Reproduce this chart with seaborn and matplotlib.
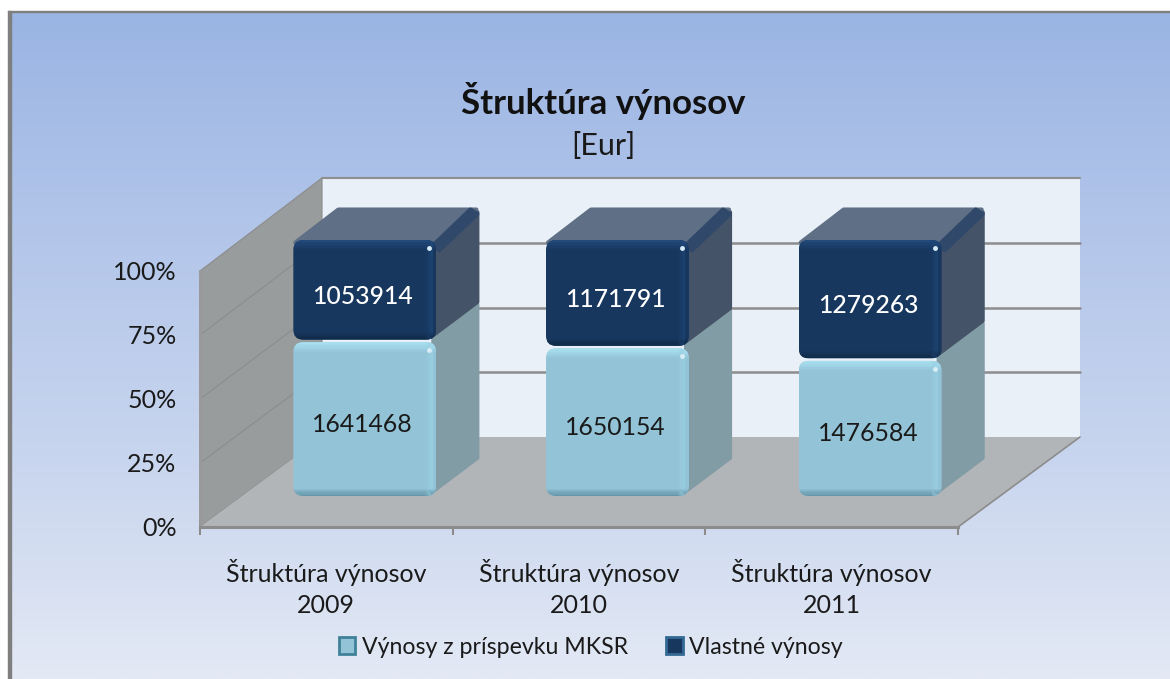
import numpy as np
import matplotlib
matplotlib.use("Agg")
import matplotlib.pyplot as plt
import seaborn as sns
from matplotlib.colors import LinearSegmentedColormap
from matplotlib.patches import FancyBboxPatch, Rectangle, Patch
from matplotlib.transforms import IdentityTransform

# Dáta
roky = ["Štruktúra výnosov\n2009", "Štruktúra výnosov\n2010", "Štruktúra výnosov\n2011"]
vynosy_mksr = [1641468, 1650154, 1476584]
vlastne_vynosy = [1053914, 1171791, 1279263]
nazvy_serii = ["Výnosy z príspevku MKSR", "Vlastné výnosy"]
ytick_hodnoty = [0, 25, 50, 75, 100]

sns.set_theme(style="white")
plt.rcParams["font.family"] = ["Lato", "DejaVu Sans"]

W, H = 1170, 679
fig = plt.figure(figsize=(W / 100, H / 100), dpi=100, facecolor="white")


def box(left, top, right, bottom):
    return [left / W, 1 - bottom / H, (right - left) / W, (bottom - top) / H]


# pozadie s prechodom
bg = fig.add_axes(box(11, 12, W, H), zorder=0)
cmap = LinearSegmentedColormap.from_list("bg", ["#9ab4e3", "#b3c6ea", "#c8d5ee", "#e3e9f5"])
bg.imshow(np.linspace(0, 1, 256).reshape(-1, 1), aspect="auto", cmap=cmap)
bg.axis("off")
fig.add_artist(Rectangle(box(8, 11, 11, H)[:2], 3 / W, (H - 11) / H, color="#7f7f7f", transform=fig.transFigure))
fig.add_artist(Rectangle((8 / W, 1 - 12 / H), (W - 8) / W, 1.5 / H, color="#7f7f7f", transform=fig.transFigure))

# predna rovina grafu
ax = fig.add_axes(box(200, 271, 958, 527), zorder=1)
ax.patch.set_alpha(0)
pct_a = np.array(vynosy_mksr) / (np.array(vynosy_mksr) + np.array(vlastne_vynosy)) * 100
sus = np.full(3, 100.0)

PX = 3 / 758  # kategorie na pixel
PY = 100 / 256  # percenta na pixel
DX, DY = 122 * PX, 90 * PY


def zadok(x, y):
    return x + DX, y * 259 / 256 + DY


ax.set_xlim(-0.5, 2.5)
ax.set_ylim(0, 100)
x0, x1 = -0.5, 2.5
xb0, yb0 = zadok(x0, 0)
xb1, yb1 = zadok(x1, 100)

# steny a podlaha
ax.fill([xb0, xb1, xb1, xb0], [yb0, yb0, yb1, yb1], color="#e9f0f8", clip_on=False, zorder=0, lw=0)
ax.plot([xb0, xb1], [yb1, yb1], color="#8f8f8f", lw=1.5, clip_on=False, zorder=1)
ax.fill([x0, xb0, xb0, x0], [0, yb0, yb1, 100], color="#999c9c", clip_on=False, zorder=1, ec="#8c8c8c", lw=0.8)
ax.fill([x0, x1, xb1, xb0], [0, 0, yb0, yb0], color="#b2b5b7", clip_on=False, zorder=1, lw=0)
ax.plot([x1, xb1], [0, yb0], color="#8c8c8c", lw=1.2, clip_on=False, zorder=1)
for v in ytick_hodnoty[1:-1]:
    xb, yb = zadok(x0, v)
    xe, _ = zadok(x1, v)
    ax.plot([xb, xe], [yb, yb], color="#8c8c8c", lw=1.8, clip_on=False, zorder=1)
    ax.plot([x0, xb], [v, yb], color="#8a8d8d", lw=0.8, clip_on=False, zorder=1)

ax.set_xticks(range(3))
ax.set_xticklabels(roky, fontsize=18, color="#1a1a1a", linespacing=1.42)
ax.set_xticks([-0.5, 0.5, 1.5, 2.5], minor=True)
ax.tick_params(axis="x", which="major", length=0, pad=23)
ax.tick_params(axis="x", which="minor", direction="inout", length=11, width=1.5, color="#8c8c8c", bottom=True)
ax.set_yticks(ytick_hodnoty)
ax.set_yticklabels([f"{v}%" for v in ytick_hodnoty], fontsize=18, color="#1a1a1a")
ax.tick_params(axis="y", length=0, pad=17)
for s in ["top", "right"]:
    ax.spines[s].set_visible(False)
ax.spines["bottom"].set_color("#8c8c8c")
ax.spines["bottom"].set_linewidth(2.2)
ax.spines["left"].set_color("#999999")
ax.spines["left"].set_linewidth(2)

# stlpce: posunute do hlbky oproti prednej rovine
bx = fig.add_axes(box(200 + 38.5, 271 - 31, 958 + 38.5, 527 - 31), zorder=2)
bx.patch.set_alpha(0)
sns.barplot(x=roky, y=sus, color="#17375e", saturation=1, width=0.566, ax=bx, zorder=3, linewidth=0)
sns.barplot(x=roky, y=pct_a, color="#93c3d6", saturation=1, width=0.566, ax=bx, zorder=3, linewidth=0)
bx.set_xlim(-0.5, 2.5)
bx.set_ylim(0, 100)
bx.axis("off")

tmave = bx.patches[:3]
svetle = bx.patches[3:6]
hl_x, hl_y = 42 * PX, 33 * PY
KROKY = 6


def plocha(xs, ys, farba):
    bx.fill(xs, ys, color=farba, ec=farba, lw=3, joinstyle="round", clip_on=False, zorder=2)


def oblec(bar, top, bottom, hore, dole, pravo):
    # zaoblenie a skosene hrany na prednej strane
    xl, xr = bar.get_x(), bar.get_x() + bar.get_width()
    (dl, db), (dr, dt) = bx.transData.transform([(xl, bottom), (xr, top)])
    clip = FancyBboxPatch((dl, db), dr - dl, dt - db, boxstyle="round,pad=0,rounding_size=10",
                          transform=IdentityTransform(), fc="none", ec="none")
    bar.set_clip_path(clip)
    for k in range(KROKY):
        a = 1 - k / KROKY
        pasy = [
            (xl, top - (k + 1) * 1.6 * PY, xr - xl, 1.6 * PY, hore, a),
            (xl, bottom + k * 1.2 * PY, xr - xl, 1.2 * PY, dole, a),
            (xr - (5 + k * 1.2) * PX, bottom, 1.2 * PX, top - bottom, pravo, a * 0.8),
        ]
        for px, py, pw, ph, farba, alfa in pasy:
            r = Rectangle((px, py), pw, ph, fc=farba, ec="none", alpha=alfa, zorder=4)
            bx.add_patch(r)
            r.set_clip_path(clip)
    bx.plot([xr - 7 * PX], [top - 8 * PY], "o", ms=3.5, color="#d8ecf5", mew=0, zorder=5)


for i in range(3):
    bar_a = svetle[i]
    xl = bar_a.get_x()
    xr = xl + bar_a.get_width()
    hr = pct_a[i]
    # bocne a horne steny
    plocha([xr - 3 * PX, xr + hl_x - 1 * PX, xr + hl_x - 1 * PX, xr - 3 * PX], [2, 2 + hl_y, hr + hl_y + 1, hr + 1], "#829ca6")
    plocha([xr - 3 * PX, xr + hl_x - 1 * PX, xr + hl_x - 1 * PX, xr - 3 * PX], [hr + 2, hr + hl_y + 2, 100 + hl_y - 2, 98], "#445368")
    plocha([xl + 2 * PX, xr - 2 * PX, xr + hl_x - 2 * PX, xl + hl_x + 3 * PX], [99, 99, 100 + hl_y - 1, 100 + hl_y - 1], "#5f6f85")
    plocha([xr - 3 * PX, xr + hl_x - 8 * PX, xr + hl_x - 1 * PX, xr + 3 * PX],
           [98, 100 + hl_y - 1, 100 + hl_y - 7 * PY * 1.0, 96], "#30496b")
    oblec(bar_a, hr - 0.8, 0, "#a8e0f0", "#6797ab", "#99d0e3")
    oblec(tmave[i], 100, hr + 0.2, "#21497a", "#102b4a", "#1e4674")
    # popisky hodnot
    bx.annotate(str(vynosy_mksr[i]), (i, hr / 2), xytext=(-1.5, -4.5), textcoords="offset points",
                ha="center", va="center", fontsize=17.8, color="#1a1a1a", zorder=6)
    bx.annotate(str(vlastne_vynosy[i]), (i, (hr + 100) / 2), xytext=(-1.5, -4.5), textcoords="offset points",
                ha="center", va="center", fontsize=17.8, color="white", fontweight="medium", zorder=6)

# nazov
fig.text(603 / W, 1 - 101 / H, "Štruktúra výnosov", ha="center", va="center", fontsize=25, fontweight="bold", color="#111111", zorder=5)
fig.text(603 / W, 1 - 146 / H, "[Eur]", ha="center", va="center", fontsize=22, color="#1a1a1a", zorder=5)

# legenda
handles = [Patch(fc="#93c3d6", ec="#3f8198", lw=2), Patch(fc="#17375e", ec="#336a94", lw=2)]
leg = bx.legend(handles, nazvy_serii, loc="center", bbox_to_anchor=(591 / W, 1 - 647 / H),
                bbox_transform=fig.transFigure, ncol=2, frameon=False, fontsize=16.7, handlelength=0.7,
                handleheight=0.7, handletextpad=0.3, columnspacing=1.64, labelcolor="#1a1a1a")

fig.savefig("out.png", dpi=100)
